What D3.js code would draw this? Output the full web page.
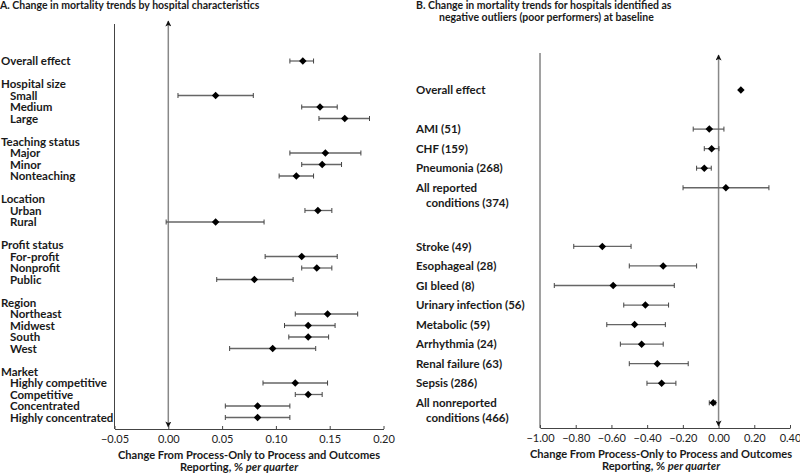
<!DOCTYPE html>
<html>
<head>
<meta charset="utf-8">
<script src="https://cdn.jsdelivr.net/npm/d3@7"></script>
<style>
  body { margin: 0; background: #fff; }
  svg { font-family: Lato, "Open Sans", sans-serif; }
</style>
</head>
<body>
<div></div>
<script>
var width = 800, height = 475;

// Panel A: hospital characteristics (null = header / spacer row)
var leftLabels = ["Overall effect", "", "Hospital size", "Small", "Medium", "Large", "",
  "Teaching status", "Major", "Minor", "Nonteaching", "",
  "Location", "Urban", "Rural", "",
  "Profit status", "For-profit", "Nonprofit", "Public", "",
  "Region", "Northeast", "Midwest", "South", "West", "",
  "Market", "Highly competitive", "Competitive", "Concentrated", "Highly concentrated"];
var leftIndent = [0, 0, 0, 1, 1, 1, 0, 0, 1, 1, 1, 0, 0, 1, 1, 0, 0, 1, 1, 1, 0, 0, 1, 1, 1, 1, 0, 0, 1, 1, 1, 1];
var leftEst = [0.125, null, null, 0.044, 0.141, 0.164, null, null, 0.146, 0.143, 0.119, null, null, 0.139, 0.044, null,
  null, 0.124, 0.138, 0.080, null, null, 0.148, 0.130, 0.130, 0.097, null, null, 0.118, 0.130, 0.083, 0.083];
var leftLo = [0.113, null, null, 0.009, 0.124, 0.140, null, null, 0.113, 0.124, 0.103, null, null, 0.127, -0.002, null,
  null, 0.090, 0.124, 0.045, null, null, 0.118, 0.108, 0.112, 0.057, null, null, 0.088, 0.118, 0.053, 0.053];
var leftHi = [0.135, null, null, 0.079, 0.157, 0.187, null, null, 0.179, 0.161, 0.135, null, null, 0.152, 0.089, null,
  null, 0.157, 0.152, 0.116, null, null, 0.176, 0.155, 0.149, 0.137, null, null, 0.148, 0.143, 0.113, 0.113];
var leftTicks = [-0.05, 0, 0.05, 0.10, 0.15, 0.20];

// Panel B: negative outliers at baseline
var rightLabels = [["Overall effect"], [], ["AMI (51)"], ["CHF (159)"], ["Pneumonia (268)"],
  ["All reported", "conditions (374)"], [], [],
  ["Stroke (49)"], ["Esophageal (28)"], ["GI bleed (8)"], ["Urinary infection (56)"], ["Metabolic (59)"],
  ["Arrhythmia (24)"], ["Renal failure (63)"], ["Sepsis (286)"], ["All nonreported", "conditions (466)"]];
var rightEst = [0.125, null, -0.052, -0.039, -0.080, 0.041, null, null, -0.651, -0.310, -0.590, -0.410, -0.470, -0.431, -0.343, -0.319, -0.030];
var rightLo = [null, null, -0.142, -0.080, -0.123, -0.199, null, null, -0.811, -0.500, -0.920, -0.531, -0.626, -0.550, -0.500, -0.401, -0.052];
var rightHi = [null, null, 0.030, 0.002, -0.041, 0.282, null, null, -0.490, -0.123, -0.248, -0.280, -0.298, -0.310, -0.170, -0.239, -0.016];
var rightTicks = [-1.0, -0.8, -0.6, -0.4, -0.2, 0, 0.2, 0.4];

var svg = d3.select("div").append("svg")
    .attr("width", width)
    .attr("height", height);

var defs = svg.append("defs");
defs.append("marker")
    .attr("id", "arrow")
    .attr("viewBox", "0 0 10 10")
    .attr("refX", 9).attr("refY", 5)
    .attr("markerWidth", 7).attr("markerHeight", 6)
    .attr("markerUnits", "userSpaceOnUse")
    .attr("orient", "auto-start-reverse")
  .append("path")
    .attr("d", "M0,0L10,5L0,10L2.5,5z")
    .attr("fill", "#111");

var fmt = d3.format(".2f");
var diamond = d3.symbol().type(d3.symbolDiamond2).size(36);

function panel(opt) {
  var g = svg.append("g");
  var x = d3.scaleLinear().domain(opt.domain).range(opt.xrange);
  var y = d3.scaleLinear().domain([0, opt.n - 1]).range(opt.yrange);

  // title
  g.append("g").selectAll("text")
      .data(opt.title)
    .enter().append("text")
      .attr("x", function(d, i) { return opt.titleX + (i ? 23 : 0); })
      .attr("y", function(d, i) { return 8.5 + i * 12; })
      .attr("font-size", 10.5)
      .attr("font-weight", 700)
      .attr("fill", "#1a1a1a")
      .text(function(d) { return d; });

  // frame line on the left
  g.append("line")
      .attr("x1", opt.xrange[0]).attr("x2", opt.xrange[0])
      .attr("y1", opt.frameTop).attr("y2", opt.axisY)
      .attr("stroke", "#444").attr("stroke-width", 1);

  // zero line with arrows
  g.append("line")
      .attr("x1", x(0)).attr("x2", x(0))
      .attr("y1", opt.arrowTop).attr("y2", opt.axisY - 2)
      .attr("stroke", "#888").attr("stroke-width", 1.5)
      .attr("marker-start", "url(#arrow)")
      .attr("marker-end", "url(#arrow)");

  // x axis
  var axis = g.append("g")
      .attr("transform", "translate(0," + opt.axisY + ")")
      .call(d3.axisBottom(x).tickValues(opt.ticks).tickFormat(fmt)
        .tickSizeInner(-3).tickSizeOuter(0).tickPadding(6));
  axis.select(".domain").attr("stroke", "#444");
  axis.selectAll(".tick line").attr("stroke", "#444");
  axis.selectAll(".tick text")
      .attr("font-family", "Lato, sans-serif")
      .attr("font-size", 11)
      .attr("fill", "#222");

  var cx = (opt.xrange[0] + opt.xrange[1]) / 2;
  g.append("text")
      .attr("x", cx + opt.t1dx).attr("y", opt.axisY + 30)
      .attr("text-anchor", "middle")
      .attr("font-size", 11.1)
      .attr("font-weight", 700)
      .attr("fill", "#1a1a1a")
      .text("Change From Process-Only to Process and Outcomes");
  var at2 = g.append("text")
      .attr("x", cx + opt.t2dx).attr("y", opt.axisY + 42)
      .attr("text-anchor", "middle")
      .attr("font-size", 11.1)
      .attr("font-weight", 700)
      .attr("fill", "#1a1a1a");
  at2.append("tspan").text("Reporting, % ");
  at2.append("tspan").attr("font-style", "italic").text("per quarter");

  // row labels
  var rows = g.append("g").selectAll("text")
      .data(opt.labels)
    .enter().append("text")
      .attr("y", function(d, i) { return y(i); })
      .attr("font-size", opt.labelSize)
      .attr("font-weight", 700)
      .attr("fill", "#1a1a1a");
  rows.each(function(d, i) {
    var lines = Array.isArray(d) ? d : [d];
    var x0 = opt.labelX + (opt.indent ? opt.indent[i] * 9 : 0);
    d3.select(this).selectAll("tspan")
        .data(lines)
      .enter().append("tspan")
        .attr("x", function(t, j) { return x0 + (j ? 10 : 0); })
        .attr("dy", function(t, j) { return j ? "1.3em" : "0.36em"; })
        .text(function(t) { return t; });
  });

  // error bars + points
  var idx = d3.range(opt.n).filter(function(i) { return opt.est[i] != null; });
  var pts = g.append("g").selectAll("g")
      .data(idx)
    .enter().append("g");

  pts.filter(function(i) { return opt.lo[i] != null; }).each(function(i) {
    var s = d3.select(this);
    s.append("line")
        .attr("x1", x(opt.lo[i])).attr("x2", x(opt.hi[i]))
        .attr("y1", y(i)).attr("y2", y(i))
        .attr("stroke", "#666").attr("stroke-width", 1.3);
    [opt.lo[i], opt.hi[i]].forEach(function(v) {
      s.append("line")
          .attr("x1", x(v)).attr("x2", x(v))
          .attr("y1", y(i) - 2.5).attr("y2", y(i) + 2.5)
          .attr("stroke", "#444").attr("stroke-width", 1);
    });
  });

  pts.append("path")
      .attr("d", diamond)
      .attr("transform", function(i) { return "translate(" + x(opt.est[i]) + "," + y(i) + ")"; })
      .attr("fill", "#000");
}

panel({
  title: ["A. Change in mortality trends by hospital characteristics"],
  titleX: 0,
  domain: [-0.05, 0.20], xrange: [114.5, 383.5], ticks: leftTicks,
  n: leftLabels.length, yrange: [61, 417.5],
  labels: leftLabels, indent: leftIndent, labelX: 1, labelSize: 11.5,
  est: leftEst, lo: leftLo, hi: leftHi,
  frameTop: 24, arrowTop: 21, axisY: 429, t1dx: 0, t2dx: -10
});

panel({
  title: ["B. Change in mortality trends for hospitals identified as",
          "negative outliers (poor performers) at baseline"],
  titleX: 416,
  domain: [-1.0, 0.4], xrange: [540, 790], ticks: rightTicks,
  n: rightLabels.length, yrange: [90, 402.8],
  labels: rightLabels, indent: null, labelX: 416, labelSize: 11.5,
  est: rightEst, lo: rightLo, hi: rightHi,
  frameTop: 53, arrowTop: 55, axisY: 428, t1dx: -4, t2dx: -4
});
</script>
</body>
</html>
